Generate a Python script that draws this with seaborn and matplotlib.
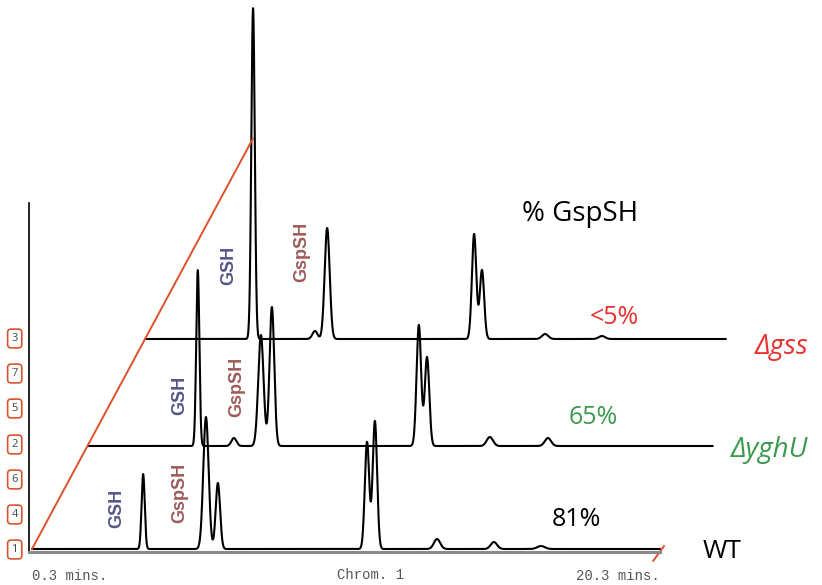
import numpy as np
import pandas as pd
import matplotlib
matplotlib.use("Agg")
import matplotlib.pyplot as plt
import seaborn as sns

# traces, bottom to top (stacked 3D-style chromatograms)
traces = ["WT", "ΔyghU", "Δgss"]
run_start = [0.3, 0.3, 0.3]
run_end = [20.3, 20.2, 18.8]
trace_dx = [0.0, 1.78, 3.6]      # shift along the time axis (min)
trace_dy = [0.0, 103.0, 210.0]   # shift along the signal axis

# peaks: retention time (min), height, width (min)
wt_rt = [3.84, 5.84, 6.22, 10.97, 11.22, 13.20, 15.01, 16.51]
wt_height = [75, 132, 66, 107, 128, 10, 7, 3]
wt_width = [0.05, 0.085, 0.07, 0.07, 0.07, 0.1, 0.1, 0.12]

yghu_rt = [3.80, 4.95, 5.81, 6.16, 10.84, 11.10, 13.10, 14.95]
yghu_height = [176, 8, 111, 139, 121, 89, 9, 8]
yghu_width = [0.05, 0.08, 0.085, 0.075, 0.072, 0.072, 0.1, 0.1]

gss_rt = [3.74, 5.71, 6.10, 10.78, 11.03, 13.04, 14.85]
gss_height = [331, 8, 111, 105, 69, 5, 3]
gss_width = [0.055, 0.08, 0.08, 0.07, 0.07, 0.1, 0.1]

peak_rt = [wt_rt, yghu_rt, gss_rt]
peak_height = [wt_height, yghu_height, gss_height]
peak_width = [wt_width, yghu_width, gss_width]

trace_pct = ["81%", "65%", "<5%"]
trace_colors = ["black", "#3c9a4c", "#e8322e"]
lane_ticks = [1, 36, 71, 106, 142, 177, 212]
lane_labels = ["1", "4", "6", "2", "5", "7", "3"]

# build the long table
rows = []
for i, name in enumerate(traces):
    t = np.linspace(run_start[i], run_end[i], 4000)
    sig = np.zeros_like(t)
    for rt, h, w in zip(peak_rt[i], peak_height[i], peak_width[i]):
        sig += h * np.exp(-0.5 * ((t - rt) / w) ** 2)
    rows.append(pd.DataFrame({"x": t + trace_dx[i], "y": sig + trace_dy[i], "trace": name}))
df = pd.concat(rows, ignore_index=True)

sns.set_style("white")
plt.rcParams["font.family"] = ["Open Sans", "DejaVu Sans"]

fig = plt.figure(figsize=(8.22, 5.85), dpi=100)
ax = fig.add_axes([29 / 822, 33 / 585, 793 / 822, 349 / 585])

sns.lineplot(data=df, x="x", y="y", units="trace", estimator=None, sort=False,
             color="black", lw=1.5, ax=ax)
for line in ax.lines:
    line.set_clip_on(False)

ax.set_xlim(0.2045, 0.2045 + 793 / 31.4)
ax.set_ylim(-3, 346)
ax.set_xlabel("")
ax.set_ylabel("")

# red offset axis through the start of each trace
k = 1.955
ax.plot([run_start[0], run_start[0] + trace_dx[2] * k], [0, trace_dy[2] * k],
        color="#e0502a", lw=1.4, clip_on=False)
ax.plot([20.43, 20.08], [3, -12], color="#e0502a", lw=1.4, clip_on=False)

for s in ["top", "right"]:
    ax.spines[s].set_visible(False)
ax.spines["left"].set_color("black")
ax.spines["left"].set_linewidth(1.2)
ax.spines["bottom"].set_color("#8a8a8a")
ax.spines["bottom"].set_linewidth(2.2)
ax.spines["bottom"].set_bounds(0.2045, 20.3)

ax.set_xticks([0.3, 20.3], labels=["0.3 mins.", "20.3 mins."])
ax.tick_params(axis="x", length=0, pad=12, labelsize=10, labelcolor="#555555")
xl = ax.get_xticklabels()
xl[0].set_ha("left")
xl[1].set_ha("right")
for lab in xl:
    lab.set_fontfamily(["Liberation Mono", "DejaVu Sans Mono"])
fig.text(370 / 822, 1 - 575 / 585, "Chrom. 1", ha="center", va="center",
         fontsize=10, color="#555555", family=["Liberation Mono", "DejaVu Sans Mono"])

ax.set_yticks(lane_ticks, labels=lane_labels)
ax.tick_params(axis="y", length=0, pad=8, labelsize=8, labelcolor="#444444")
for lab in ax.get_yticklabels():
    lab.set_bbox(dict(boxstyle="round,pad=0.35,rounding_size=0.3", fc="white",
                      ec="#d9532c", lw=1.2))

# peak labels
peak_labels = [("GSH", 117, 508, "#55558a"), ("GspSH", 180, 493, "#a05a5a"),
               ("GSH", 180, 395, "#55558a"), ("GspSH", 237, 387, "#a05a5a"),
               ("GSH", 229, 265, "#55558a"), ("GspSH", 302, 252, "#a05a5a")]
for txt, px, py, c in peak_labels:
    fig.text(px / 822, 1 - py / 585, txt, rotation=90, ha="center", va="center",
             fontsize=13, fontweight="bold", color=c, family=["Liberation Sans", "DejaVu Sans"])

fig.text(522 / 822, 1 - 214 / 585, "% GspSH", ha="left", va="center", fontsize=20, color="black")
pct_pos = [(552, 520), (569, 418), (590, 318)]
name_pos = [(703, 551), (731, 450), (755, 347)]
for i in range(3):
    fig.text(pct_pos[i][0] / 822, 1 - pct_pos[i][1] / 585, trace_pct[i], ha="left",
             va="center", fontsize=18, color=trace_colors[i])
    fig.text(name_pos[i][0] / 822, 1 - name_pos[i][1] / 585, traces[i], ha="left",
             va="center", fontsize=19 if i == 0 else 20, color=trace_colors[i],
             style="normal" if i == 0 else "italic")

fig.savefig("out.png", dpi=100)
